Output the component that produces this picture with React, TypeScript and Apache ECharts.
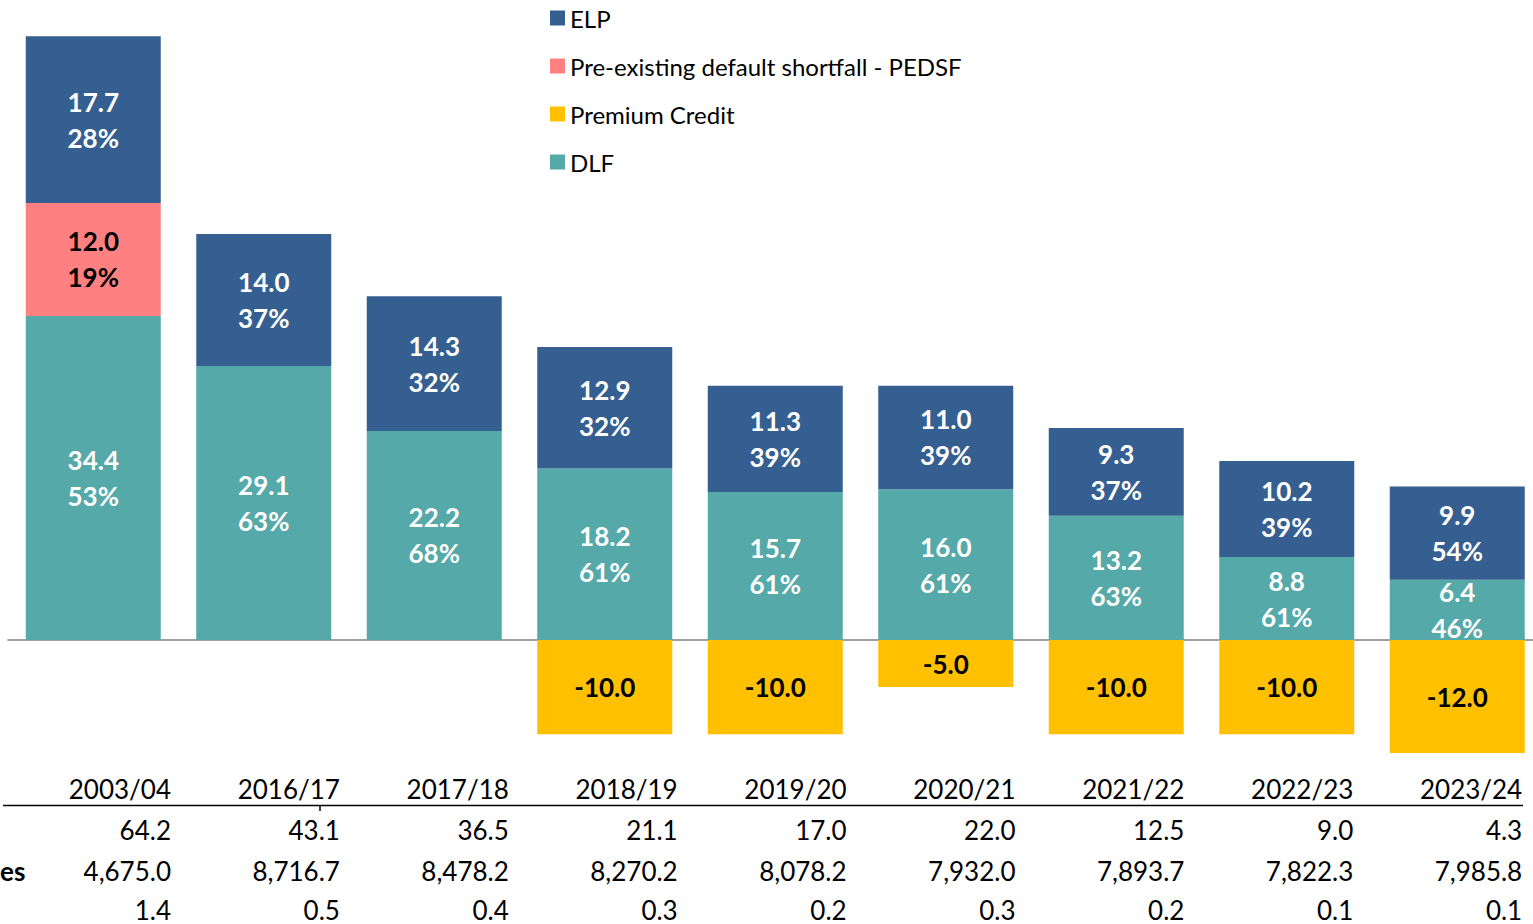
import React, { useEffect, useRef } from "react";
import * as echarts from "echarts";

const categories = ["2003/04", "2016/17", "2017/18", "2018/19", "2019/20", "2020/21", "2021/22", "2022/23", "2023/24"];
const dlf = [34.4, 29.1, 22.2, 18.2, 15.7, 16.0, 13.2, 8.8, 6.4];
const dlfPct = [53, 63, 68, 61, 61, 61, 63, 61, 46];
const pedsf = [12.0, null, null, null, null, null, null, null, null];
const pedsfPct = [19, null, null, null, null, null, null, null, null];
const elp = [17.7, 14.0, 14.3, 12.9, 11.3, 11.0, 9.3, 10.2, 9.9];
const elpPct = [28, 37, 32, 32, 39, 39, 37, 39, 54];
const premiumCredit = [null, null, null, -10.0, -10.0, -5.0, -10.0, -10.0, -12.0];
const tableRow1 = [64.2, 43.1, 36.5, 21.1, 17.0, 22.0, 12.5, 9.0, 4.3];
const tableRow2 = [4675.0, 8716.7, 8478.2, 8270.2, 8078.2, 7932.0, 7893.7, 7822.3, 7985.8];
const tableRow3 = [1.4, 0.5, 0.4, 0.3, 0.2, 0.3, 0.2, 0.1, 0.1];
const rowLabel2 = "es";

const FONT = "Lato";
const C_ELP = "#365F91";
const C_PEDSF = "#FF8080";
const C_PC = "#FFC000";
const C_DLF = "#55A9A8";

const fmt = (v: number) =>
  v.toLocaleString("en-US", { minimumFractionDigits: 1, maximumFractionDigits: 1 });

export default function App() {
  const ref = useRef<HTMLDivElement>(null);
  useEffect(() => {
    if (!ref.current) return;
    const chart = echarts.init(ref.current, null, { renderer: "svg" });
    const colRight = (i: number) => 171 + 168.9 * i;
    const rowsY = [789, 830, 871, 910];
    const textStyleBase = { fontFamily: FONT, fontSize: 26, fill: "#000" };
    const graphics: any[] = [];
    categories.forEach((c, i) => {
      graphics.push({ type: "text", x: colRight(i), y: rowsY[0], style: { ...textStyleBase, text: c, align: "right", verticalAlign: "middle" } });
      graphics.push({ type: "text", x: colRight(i), y: rowsY[1], style: { ...textStyleBase, text: fmt(tableRow1[i]), align: "right", verticalAlign: "middle" } });
      graphics.push({ type: "text", x: colRight(i), y: rowsY[2], style: { ...textStyleBase, text: fmt(tableRow2[i]), align: "right", verticalAlign: "middle" } });
      graphics.push({ type: "text", x: colRight(i), y: rowsY[3], style: { ...textStyleBase, text: fmt(tableRow3[i]), align: "right", verticalAlign: "middle" } });
    });
    graphics.push({ type: "text", x: 0, y: rowsY[2], style: { ...textStyleBase, text: rowLabel2, fontWeight: "bold", align: "left", verticalAlign: "middle" } });
    graphics.push({ type: "line", shape: { x1: 3, y1: 805.5, x2: 1523, y2: 805.5 }, style: { stroke: "#000", lineWidth: 1.5 } });
    graphics.push({ type: "line", shape: { x1: 320, y1: 805, x2: 320, y2: 811 }, style: { stroke: "#000", lineWidth: 1.5 } });

    const lbl = (values: (number | null)[], pcts: (number | null)[] | null, color: string) => ({
      show: true,
      position: "inside",
      color,
      fontFamily: FONT,
      fontWeight: "bold",
      fontSize: 26,
      lineHeight: 36,
      formatter: (p: any) => {
        const v = values[p.dataIndex];
        if (v === null || v === undefined) return "";
        const pc = pcts ? pcts[p.dataIndex] : null;
        return pc !== null && pc !== undefined ? `${v.toFixed(1)}\n${pc}%` : v.toFixed(1);
      },
    });

    const scale = 9.42;
    const yMax = 65;
    const yMin = -13;
    chart.setOption({
      animation: false,
      textStyle: { fontFamily: FONT },
      grid: { left: 8, width: 170.5 * 9, top: 640 - yMax * scale, height: (yMax - yMin) * scale },
      legend: {
        data: ["ELP", "Pre-existing default shortfall - PEDSF", "Premium Credit", "DLF"],
        orient: "vertical",
        left: 550,
        top: 4,
        padding: 0,
        icon: "rect",
        itemWidth: 15,
        itemHeight: 15,
        itemGap: 20,
        textStyle: { fontFamily: FONT, fontSize: 24, color: "#000", lineHeight: 28 },
      },
      xAxis: {
        type: "category",
        data: categories,
        axisLine: { show: true, onZero: true, lineStyle: { color: "#A0A0A0", width: 2 } },
        axisTick: { show: false },
        axisLabel: { show: false },
      },
      yAxis: {
        type: "value",
        min: yMin,
        max: yMax,
        show: false,
        splitLine: { show: false },
      },
      series: [
        { name: "DLF", type: "bar", stack: "s", barWidth: 135, data: dlf, itemStyle: { color: C_DLF }, label: lbl(dlf, dlfPct, "#fff") },
        { name: "Pre-existing default shortfall - PEDSF", type: "bar", stack: "s", barWidth: 135, data: pedsf, itemStyle: { color: C_PEDSF }, label: lbl(pedsf, pedsfPct, "#000") },
        { name: "ELP", type: "bar", stack: "s", barWidth: 135, data: elp, itemStyle: { color: C_ELP }, label: lbl(elp, elpPct, "#fff") },
        { name: "Premium Credit", type: "bar", stack: "s", barWidth: 135, data: premiumCredit, itemStyle: { color: C_PC }, label: lbl(premiumCredit, null, "#000") },
      ],
      graphic: graphics,
    });
    return () => chart.dispose();
  }, []);
  return (
    <div style={{ position: "absolute", left: 0, top: 0, width: 1533, height: 924, overflow: "hidden" }}>
      <div ref={ref} style={{ width: 1550, height: 924 }} />
    </div>
  );
}
